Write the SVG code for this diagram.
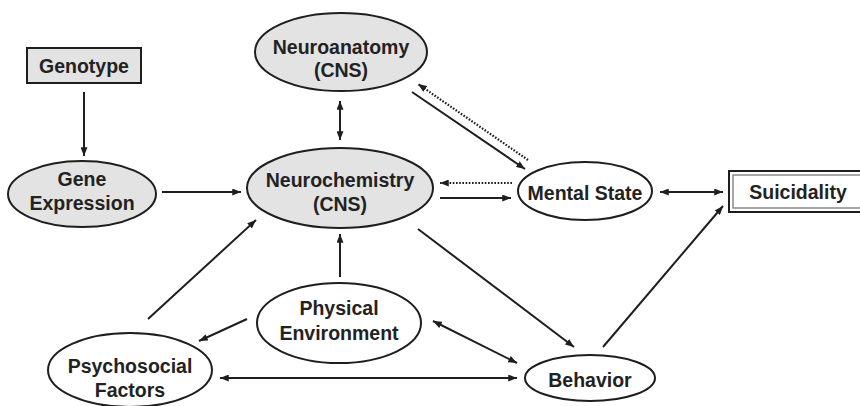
<svg xmlns="http://www.w3.org/2000/svg" width="860" height="406" viewBox="0 0 860 406">
<style>
.n{fill:#e3e3e3;stroke:#1e1e1e;stroke-width:2}
.w{fill:#ffffff;stroke:#1e1e1e;stroke-width:2}
.t{font-family:"Liberation Sans",Arial,sans-serif;font-weight:bold;font-size:19.5px;fill:#222;text-anchor:middle}
.c{stroke:#1e1e1e;stroke-width:2;fill:none}
.d{stroke:#1e1e1e;stroke-width:2.2;fill:none;stroke-dasharray:1.6 1.6}
</style>
<defs>
<marker id="ah" viewBox="0 0 10 8" refX="10" refY="4" markerWidth="9" markerHeight="7" markerUnits="userSpaceOnUse" orient="auto-start-reverse">
<path d="M0,0 L10,4 L0,8 Z" fill="#1e1e1e"/>
</marker>
</defs>
<rect width="860" height="406" fill="#ffffff"/>
<g id="connectors">
<line class="c" x1="84" y1="92" x2="84" y2="156" marker-end="url(#ah)"/>
<line class="c" x1="162" y1="192" x2="241" y2="192" marker-end="url(#ah)"/>
<line class="c" x1="340" y1="101" x2="340" y2="140" marker-start="url(#ah)" marker-end="url(#ah)"/>
<line class="c" x1="412" y1="92" x2="525" y2="169" marker-end="url(#ah)"/>
<line class="d" x1="528" y1="160" x2="418" y2="84" marker-end="url(#ah)"/>
<line class="d" x1="512" y1="183" x2="440" y2="183" marker-end="url(#ah)"/>
<line class="c" x1="440" y1="198" x2="511" y2="198" marker-end="url(#ah)"/>
<line class="c" x1="660" y1="192" x2="723" y2="192" marker-start="url(#ah)" marker-end="url(#ah)"/>
<line class="c" x1="340" y1="277" x2="340" y2="234" marker-end="url(#ah)"/>
<line class="c" x1="148" y1="319" x2="256" y2="220" marker-end="url(#ah)"/>
<line class="c" x1="247" y1="319" x2="199" y2="341" marker-end="url(#ah)"/>
<line class="c" x1="220" y1="378" x2="517" y2="378" marker-start="url(#ah)" marker-end="url(#ah)"/>
<line class="c" x1="433" y1="321" x2="517" y2="363" marker-start="url(#ah)" marker-end="url(#ah)"/>
<line class="c" x1="418" y1="229" x2="574" y2="347" marker-end="url(#ah)"/>
<line class="c" x1="603" y1="347" x2="723" y2="206" marker-end="url(#ah)"/>
</g>
<g id="genotype">
<rect class="n" x="27" y="48" width="114" height="35"/>
<text class="t" x="84" y="72.5">Genotype</text>
</g>
<g id="neuroanatomy">
<ellipse class="n" cx="341" cy="52" rx="86" ry="39"/>
<text class="t" x="341" y="54">Neuroanatomy</text>
<text class="t" x="341" y="77">(CNS)</text>
</g>
<g id="gene-expression">
<ellipse class="n" cx="82" cy="194" rx="74" ry="33"/>
<text class="t" x="82" y="186">Gene</text>
<text class="t" x="82" y="210">Expression</text>
</g>
<g id="neurochemistry">
<ellipse class="n" cx="340" cy="188" rx="93" ry="40"/>
<text class="t" x="340" y="187">Neurochemistry</text>
<text class="t" x="340" y="211">(CNS)</text>
</g>
<g id="mental-state">
<ellipse class="w" cx="585" cy="191" rx="67" ry="29"/>
<text class="t" x="585" y="200">Mental State</text>
</g>
<g id="suicidality">
<rect x="729" y="171" width="140" height="41" fill="#ffffff" stroke="#1e1e1e" stroke-width="2"/>
<rect x="733" y="175" width="140" height="33" fill="none" stroke="#8a8a8a" stroke-width="1.5"/>
<text class="t" x="798" y="199">Suicidality</text>
</g>
<g id="physical-environment">
<ellipse class="w" cx="339" cy="323" rx="82" ry="40"/>
<text class="t" x="339" y="315">Physical</text>
<text class="t" x="339" y="340">Environment</text>
</g>
<g id="psychosocial-factors">
<ellipse class="w" cx="130" cy="370" rx="82" ry="37"/>
<text class="t" x="130" y="373">Psychosocial</text>
<text class="t" x="130" y="397">Factors</text>
</g>
<g id="behavior">
<ellipse class="w" cx="590" cy="378" rx="65" ry="23"/>
<text class="t" x="590" y="387">Behavior</text>
</g>
</svg>
